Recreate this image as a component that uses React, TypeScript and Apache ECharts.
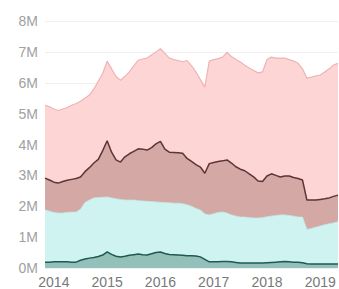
import React, { useEffect, useRef } from "react";
import * as echarts from "echarts";

// monthly categories 2013-11 .. 2019-05
const startYear = 2013;
const startMonth = 11;
const monthCount = 67;
const months: string[] = [];
for (let i = 0; i < monthCount; i++) {
  const t = startMonth - 1 + i;
  const y = startYear + Math.floor(t / 12);
  const m = (t % 12) + 1;
  months.push(`${y}-${m < 10 ? "0" + m : m}`);
}

const yTicks = ["0M", "1M", "2M", "3M", "4M", "5M", "6M", "7M", "8M"];

// values in millions (level of each band's top edge)
const pinkTop = [
  5.27, 5.22, 5.15, 5.1, 5.15, 5.2, 5.27, 5.33, 5.4, 5.5, 5.6, 5.8, 6.05, 6.3, 6.7, 6.45, 6.2,
  6.08, 6.2, 6.35, 6.55, 6.73, 6.77, 6.8, 6.9, 7.0, 7.1, 6.95, 6.8, 6.75, 6.72, 6.68, 6.72, 6.55,
  6.35, 6.1, 5.86, 6.7, 6.75, 6.78, 6.83, 6.98, 6.85, 6.75, 6.67, 6.57, 6.48, 6.4, 6.32, 6.35,
  6.75, 6.83, 6.8, 6.8, 6.8, 6.75, 6.7, 6.63, 6.45, 6.15, 6.18, 6.22, 6.25, 6.35, 6.45, 6.57, 6.63,
];
const brownTop = [
  2.91, 2.85, 2.78, 2.75, 2.8, 2.84, 2.87, 2.9, 2.95, 3.12, 3.25, 3.4, 3.52, 3.8, 4.12, 3.75, 3.5,
  3.43, 3.6, 3.7, 3.78, 3.86, 3.85, 3.82, 3.9, 4.02, 4.1, 3.85, 3.75, 3.74, 3.73, 3.72, 3.55, 3.45,
  3.35, 3.27, 3.07, 3.38, 3.42, 3.45, 3.47, 3.5, 3.4, 3.28, 3.2, 3.15, 3.05, 2.95, 2.82, 2.8,
  2.98, 3.05, 3.0, 2.95, 2.98, 2.98, 2.93, 2.9, 2.85, 2.2, 2.2, 2.2, 2.22, 2.24, 2.27, 2.32, 2.36,
];
const cyanTop = [
  1.88, 1.84, 1.8, 1.78, 1.78, 1.8, 1.81, 1.81, 1.9, 2.12, 2.2, 2.27, 2.28, 2.29, 2.3, 2.27, 2.24,
  2.22, 2.2, 2.2, 2.2, 2.18, 2.17, 2.16, 2.15, 2.14, 2.13, 2.12, 2.11, 2.1, 2.1, 2.08, 2.05, 2.0,
  1.93, 1.88, 1.75, 1.72, 1.76, 1.8, 1.81, 1.78, 1.72, 1.68, 1.65, 1.65, 1.63, 1.62, 1.62, 1.63,
  1.66, 1.68, 1.7, 1.72, 1.72, 1.7, 1.68, 1.65, 1.65, 1.25, 1.28, 1.32, 1.36, 1.4, 1.43, 1.46, 1.5,
];
const tealTop = [
  0.19, 0.19, 0.2, 0.2, 0.2, 0.2, 0.19, 0.19, 0.25, 0.29, 0.32, 0.34, 0.37, 0.42, 0.52, 0.44, 0.38,
  0.36, 0.38, 0.41, 0.43, 0.45, 0.43, 0.42, 0.46, 0.5, 0.52, 0.47, 0.44, 0.43, 0.42, 0.41, 0.4, 0.4,
  0.39, 0.36, 0.28, 0.2, 0.2, 0.2, 0.21, 0.21, 0.2, 0.18, 0.16, 0.16, 0.16, 0.16, 0.16, 0.16,
  0.17, 0.18, 0.19, 0.2, 0.21, 0.2, 0.19, 0.19, 0.17, 0.14, 0.13, 0.13, 0.13, 0.13, 0.13, 0.13, 0.13,
];

const M = 1000000;

function areaSeries(name: string, values: number[], fill: string, line: string, width: number) {
  return {
    name,
    type: "line",
    data: values.map((v) => v * M),
    symbol: "none",
    smooth: false,
    lineStyle: { color: line, width },
    areaStyle: { color: fill, opacity: 1 },
    itemStyle: { color: line },
  };
}

export default function App() {
  const ref = useRef<HTMLDivElement>(null);
  useEffect(() => {
    document.body.style.margin = "0";
    const chart = echarts.init(ref.current!, undefined, { renderer: "svg" });
    chart.setOption({
      animation: false,
      backgroundColor: "#ffffff",
      grid: { left: 45, right: 1, top: 21, bottom: 21 },
      xAxis: {
        type: "category",
        data: months,
        boundaryGap: false,
        axisLine: { show: false },
        axisTick: { show: false },
        splitLine: { show: false },
        axisLabel: {
          interval: (_i: number, v: string) => v.endsWith("-01"),
          formatter: (v: string) => v.slice(0, 4),
          color: "#787878",
          fontSize: 14,
          margin: 7,
          fontFamily: "Liberation Sans",
        },
      },
      yAxis: {
        type: "value",
        min: 0,
        max: 8 * M,
        interval: M,
        axisLine: { show: false },
        axisTick: { show: false },
        splitLine: { lineStyle: { color: "#f0f0f0", width: 1 } },
        axisLabel: {
          formatter: (v: number) => yTicks[Math.round(v / M)],
          color: "#a0a0a0",
          fontSize: 14,
          margin: 7,
          fontFamily: "Liberation Sans",
        },
      },
      series: [
        areaSeries("pink", pinkTop, "#fdd5d5", "#efb3b3", 1.2),
        areaSeries("brown", brownTop, "#d4a8a5", "#5e3434", 1.5),
        areaSeries("cyan", cyanTop, "#cff3f1", "#c3e9e6", 0.8),
        areaSeries("teal", tealTop, "#93c0b9", "#1f5a4f", 1.5),
      ],
    });
    return () => chart.dispose();
  }, []);
  return <div ref={ref} style={{ width: 339, height: 289 }} />;
}
